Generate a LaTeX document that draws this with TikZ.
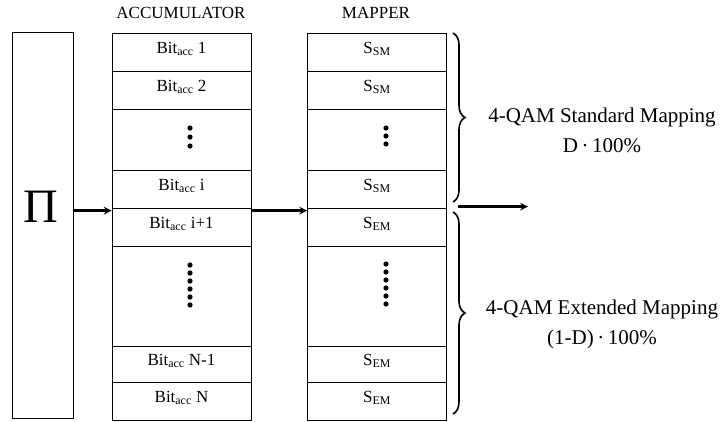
\documentclass[tikz,border=0pt]{standalone}
\usepackage{fontspec}
\setmainfont{Liberation Serif}
\usetikzlibrary{decorations.pathreplacing}
\newcommand{\bitacc}{Bit\textsubscript{acc}}
\begin{document}
\begin{tikzpicture}[x=1pt,y=-1pt,
  cell/.style={draw,line width=0.8pt,minimum width=139pt,inner sep=0pt,
    text height=12pt,text depth=10pt,font=\fontsize{17}{20}\selectfont},
  arr/.style={-stealth,line width=2.4pt},
  brc/.style={decorate,decoration={brace,amplitude=12pt},line width=1.6pt},
  lbl/.style={align=center,font=\fontsize{21}{30}\selectfont}]
 \useasboundingbox (0,0) rectangle (727,421);
 \node[draw,line width=0.8pt,minimum width=61pt,minimum height=386pt,inner sep=0pt]
   (pi) at (42.5,225.5) {};
 \node[font=\fontsize{48}{50}\selectfont] (pisym) at (41,207) {Π};
 \node[font=\fontsize{17}{20}\selectfont] (acctitle) at (181,13) {ACCUMULATOR};
 \node[font=\fontsize{17}{20}\selectfont] (maptitle) at (376,13) {MAPPER};
 % accumulator and mapper rows
 \foreach \n/\t/\b/\texn/\texs in {1/33/71/\bitacc~1/S\textsubscript{SM},
   2/71/109/\bitacc~2/S\textsubscript{SM}, 3/109/170/{}/{},
   4/170/208/\bitacc~i/S\textsubscript{SM}, 5/208/246/\bitacc~i+1/S\textsubscript{EM},
   6/246/346/{}/{}, 7/346/382/\bitacc~N-1/S\textsubscript{EM},
   8/382/420/\bitacc~N/S\textsubscript{EM}}
 {
   \node[cell,minimum height={(\b-\t)*1pt}] (acc\n) at (181.5,{(\t+\b)/2}) {\texn};
   \node[cell,minimum height={(\b-\t)*1pt}] (map\n) at (377,{(\t+\b)/2}) {\texs};
 }
 \foreach \y in {128,137,146} \fill (190,\y) circle (2.6);
 \foreach \y in {128,136,144} \fill (386,\y) circle (2.6);
 \foreach \y in {265,273,281,289,297,305} \fill (190,\y) circle (2.6);
 \foreach \y in {264,272,280,288,296,304} \fill (386,\y) circle (2.6);
 % arrows
 \draw[arr] ([yshift=-3pt]pi.east |- acc5.north) -- ([yshift=-3pt]acc5.north west);
 \draw[arr] ([yshift=-3pt]acc5.north east) -- ([yshift=-3pt]map5.north west);
 \coordinate (outs) at ([xshift=11pt,yshift=1pt]map5.north east);
 \coordinate (oute) at ([xshift=81pt,yshift=1pt]map5.north east);
 \draw[arr] (outs) -- (oute);
 % braces
 \draw[brc] (453,33) -- (453,202);
 \draw[brc] (453,212) -- (453,414);
 \node[lbl] (std) at (602,130) {4-QAM Standard Mapping\\D\,·\,100\%};
 \node[lbl] (ext) at (602,324) {4-QAM Extended Mapping\\(1-D)\,·\,100\%};
\end{tikzpicture}
\end{document}
